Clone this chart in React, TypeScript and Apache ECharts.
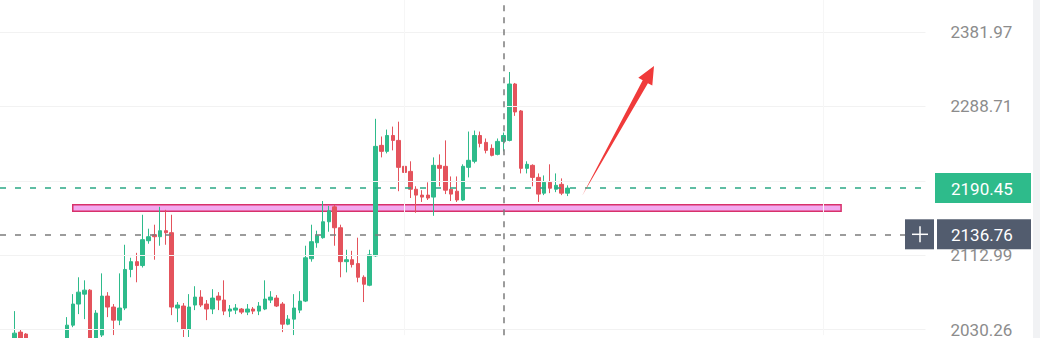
import React, { useEffect, useRef } from 'react';
import * as echarts from 'echarts';

// Price axis tick labels (log-spaced, evenly drawn)
const yTickLabels = ['2030.26', '2112.99', '2199.11', '2288.71', '2381.97'];
// visible axis range, in tick-steps (bottom edge / top edge of the plot)
const yMinStep = -0.076;
const yMaxStep = 4.4307;
const lastPrice = 2190.45;
const crossPrice = 2136.76;
const zoneTop = 2171.0;
const zoneBottom = 2163.5;
const zoneStartIdx = 12;
const zoneEndIdx = 144;
const crossIdx = 86;
const gridIdx = [69, 141];

const opens = [
  2000.8, 2009.3,
  2016.8, 2027.4, 2025.3, 2016.8, 2009.3, 2003.0, 2011.5, 2000.8, 2009.3, 2017.8,
  2035.0, 2058.2, 2069.2, 2073.6, 2020.0, 2024.2, 2067.0, 2054.9, 2040.5, 2053.8,
  2096.8, 2105.6, 2101.2, 2129.4, 2136.3, 2134.0, 2140.9, 2138.6, 2053.8, 2056.0,
  2030.6, 2057.1, 2065.9, 2058.2, 2052.7, 2067.0, 2062.6, 2050.4, 2051.5, 2052.7,
  2049.3, 2052.7, 2050.4, 2052.7, 2062.6, 2064.8, 2058.2, 2036.1, 2041.6, 2051.5,
  2061.5, 2108.9, 2127.1, 2132.9, 2151.2, 2168.5, 2144.3, 2105.6, 2107.8, 2103.4,
  2088.0, 2079.1, 2112.2, 2241.3, 2234.1, 2253.2, 2247.3, 2216.2, 2210.2, 2189.1,
  2182.2, 2182.2, 2179.9, 2217.4, 2216.2, 2189.1, 2186.8, 2176.5, 2215.0, 2222.2,
  2253.2, 2244.9, 2237.7, 2230.5, 2246.1, 2247.3, 2316.4, 2283.1, 2213.8, 2217.4,
  2203.1, 2184.5, 2197.2, 2189.1, 2194.9, 2184.5,
];
const closes = [
  2009.3, 2016.8,
  2026.3, 2020.0, 2016.8, 2009.3, 2003.0, 2011.5, 2000.8, 2009.3, 2017.8, 2035.0,
  2058.2, 2071.4, 2073.6, 2016.8, 2048.2, 2067.0, 2054.9, 2040.5, 2053.8, 2096.8,
  2105.6, 2101.2, 2130.6, 2134.0, 2134.0, 2140.9, 2138.6, 2054.9, 2057.1, 2030.6,
  2054.9, 2065.9, 2057.1, 2052.7, 2064.8, 2062.6, 2050.4, 2052.7, 2053.8, 2049.3,
  2052.7, 2050.4, 2056.0, 2063.7, 2065.9, 2056.0, 2036.1, 2041.6, 2053.8, 2061.5,
  2110.0, 2128.3, 2135.2, 2151.2, 2163.9, 2144.3, 2105.6, 2107.8, 2102.3, 2088.0,
  2080.2, 2113.3, 2240.1, 2234.1, 2253.2, 2247.3, 2215.0, 2209.0, 2189.1, 2182.2,
  2179.9, 2178.8, 2217.4, 2213.8, 2188.0, 2183.4, 2176.5, 2216.2, 2223.4, 2253.2,
  2243.7, 2235.3, 2229.3, 2246.1, 2253.2, 2316.4, 2281.9, 2213.8, 2218.6, 2203.1,
  2183.4, 2197.2, 2190.3, 2193.7, 2184.5, 2190.45,
];
const lows = [
  1995.5, 2005.1,
  2006.2, 2013.6, 2011.5, 2005.1, 1998.7, 1998.7, 1995.5, 1996.6, 2005.1, 2013.6,
  2032.8, 2047.1, 2041.6, 2011.5, 2016.8, 2022.1, 2043.8, 2024.2, 2035.0, 2051.5,
  2088.0, 2082.4, 2099.0, 2126.0, 2107.8, 2123.7, 2124.8, 2046.0, 2038.3, 2022.1,
  2022.1, 2051.5, 2054.9, 2040.5, 2047.1, 2051.5, 2046.0, 2043.8, 2047.1, 2047.1,
  2046.0, 2047.1, 2046.0, 2051.5, 2059.3, 2054.9, 2027.4, 2035.0, 2024.2, 2048.2,
  2060.4, 2105.6, 2121.4, 2131.7, 2139.7, 2123.7, 2088.0, 2093.5, 2099.0, 2082.4,
  2060.4, 2078.0, 2111.1, 2226.9, 2231.7, 2235.3, 2186.8, 2198.3, 2178.8, 2161.6,
  2174.2, 2176.5, 2158.1, 2192.6, 2183.4, 2175.3, 2174.2, 2175.3, 2203.1, 2219.8,
  2238.9, 2231.7, 2228.1, 2229.3, 2234.1, 2246.1, 2277.1, 2207.8, 2207.8, 2192.6,
  2174.2, 2182.2, 2184.5, 2185.7, 2182.2, 2181.1,
];
const highs = [
  2015.7, 2020.0,
  2050.4, 2030.6, 2026.3, 2021.0, 2013.6, 2016.8, 2015.7, 2013.6, 2021.0, 2043.8,
  2069.2, 2088.0, 2084.6, 2074.7, 2051.5, 2092.4, 2071.4, 2058.2, 2092.4, 2124.8,
  2110.0, 2115.6, 2159.3, 2143.2, 2147.8, 2168.5, 2165.0, 2159.3, 2060.4, 2059.3,
  2069.2, 2078.0, 2073.6, 2062.6, 2074.7, 2071.4, 2084.6, 2057.1, 2058.2, 2053.8,
  2058.2, 2054.9, 2060.4, 2084.6, 2072.5, 2068.1, 2060.4, 2046.0, 2069.2, 2072.5,
  2123.7, 2147.8, 2140.9, 2175.3, 2169.6, 2170.8, 2147.8, 2119.1, 2117.9, 2132.9,
  2090.2, 2119.1, 2273.5, 2252.0, 2260.4, 2264.0, 2270.0, 2240.1, 2222.2, 2192.6,
  2188.0, 2197.2, 2226.9, 2230.5, 2247.3, 2204.2, 2204.2, 2218.6, 2258.0, 2259.2,
  2258.0, 2249.6, 2242.5, 2249.6, 2256.8, 2331.4, 2317.7, 2284.3, 2222.2, 2218.6,
  2207.8, 2205.4, 2218.6, 2207.8, 2201.9, 2193.7,
];

const SLOTS = 159;
const categories = Array.from({ length: SLOTS }, (_, i) => `K${i}`);

const BASE = parseFloat(yTickLabels[0]);
const TOP = parseFloat(yTickLabels[yTickLabels.length - 1]);
const STEP = Math.log(TOP / BASE) / (yTickLabels.length - 1);
const toU = (p: number) => Math.log(p / BASE) / STEP;
const tickSteps = yTickLabels.map((_, i) => i);

const GREEN = '#2ebb8b';
const RED = '#e4535c';
const SLATE = '#525c6e';
const FONT = 'Roboto, "Noto Sans", sans-serif';

export default function App() {
  const ref = useRef<HTMLDivElement>(null);
  useEffect(() => {
    if (!ref.current) return;
    const chart = echarts.init(ref.current, null, { renderer: 'svg' });
    const candleData = opens.map((o, i) => [toU(o), toU(closes[i]), toU(lows[i]), toU(highs[i])]);
    chart.setOption({
      animation: false,
      backgroundColor: '#ffffff',
      grid: { left: 0, top: 0, width: 925.5, height: 338 },
      xAxis: {
        type: 'category',
        data: categories,
        boundaryGap: true,
        axisLine: { show: false },
        axisTick: { show: false },
        axisLabel: { show: false },
        splitLine: { show: false },
      },
      yAxis: {
        type: 'value',
        position: 'right',
        min: yMinStep,
        max: yMaxStep,
        axisLine: { show: false },
        axisTick: { show: false, customValues: tickSteps },
        splitLine: { show: false },
        axisLabel: {
          customValues: tickSteps,
          margin: 25,
          color: '#8c8c8c',
          fontSize: 17,
          fontFamily: FONT,
          formatter: (v: number) => yTickLabels[Math.round(v)] ?? '',
        },
      },
      series: [
        {
          type: 'candlestick',
          data: candleData,
          barWidth: 4,
          itemStyle: {
            color: GREEN,
            color0: RED,
            borderColor: GREEN,
            borderColor0: RED,
            borderWidth: 1,
          },
          markLine: {
            silent: true,
            symbol: 'none',
            label: { show: false },
            data: [
              ...tickSteps.map((t) => ({ yAxis: t, lineStyle: { color: '#f2f2f2', type: 'solid', width: 1 } })),
              ...gridIdx.map((g) => ({ xAxis: g, lineStyle: { color: '#f6f6f6', type: 'solid', width: 1 } })),
              { yAxis: toU(lastPrice), lineStyle: { color: '#2aa885', type: [6, 9], width: 1.5 } },
              { yAxis: toU(crossPrice), lineStyle: { color: '#7c7c7c', type: [6, 9], width: 1.5 } },
              { xAxis: crossIdx, lineStyle: { color: '#7c7c7c', type: [6, 6], width: 1.5 } },
            ],
          },
          markArea: {
            silent: true,
            itemStyle: { color: '#f2a9ef', borderColor: '#d8316b', borderWidth: 1.5 },
            data: [[{ xAxis: zoneStartIdx, yAxis: toU(zoneTop) }, { xAxis: zoneEndIdx, yAxis: toU(zoneBottom) }]],
          },
        },
      ],
    });

    const yLast = chart.convertToPixel({ yAxisIndex: 0 }, toU(lastPrice)) as number;
    const yCross = chart.convertToPixel({ yAxisIndex: 0 }, toU(crossPrice)) as number;

    chart.setOption({
      graphic: [
        { type: 'rect', z: 100, shape: { x: 1033, y: 0, width: 7, height: 338 }, style: { fill: '#f1f2f4' } },
        {
          type: 'polygon',
          z: 100,
          shape: {
            points: [
              [582, 196],
              [642.7, 80.2],
              [638.3, 77.8],
              [654, 66],
              [652.3, 85.6],
              [647.9, 83.2],
            ],
          },
          style: { fill: '#f03a3a' },
        },
        { type: 'rect', z: 100, shape: { x: 935, y: yLast - 15, width: 96, height: 30 }, style: { fill: GREEN } },
        {
          type: 'text',
          z: 101,
          style: { x: 951, y: yLast + 1, text: lastPrice.toFixed(2), fill: '#ffffff', font: `17px ${FONT}`, verticalAlign: 'middle', align: 'left' },
        },
        { type: 'rect', z: 100, shape: { x: 905, y: yCross - 15, width: 29, height: 30 }, style: { fill: SLATE } },
        { type: 'line', z: 101, shape: { x1: 912, y1: yCross, x2: 928, y2: yCross }, style: { stroke: '#ffffff', lineWidth: 1.5 } },
        { type: 'line', z: 101, shape: { x1: 920, y1: yCross - 8, x2: 920, y2: yCross + 8 }, style: { stroke: '#ffffff', lineWidth: 1.5 } },
        { type: 'rect', z: 100, shape: { x: 937, y: yCross - 15, width: 94, height: 30 }, style: { fill: SLATE } },
        {
          type: 'text',
          z: 101,
          style: { x: 951, y: yCross + 1, text: crossPrice.toFixed(2), fill: '#ffffff', font: `17px ${FONT}`, verticalAlign: 'middle', align: 'left' },
        },
      ],
    });

    return () => chart.dispose();
  }, []);
  return (
    <div
      ref={ref}
      style={{ position: 'fixed', left: 0, top: 0, width: 1040, height: 338, background: '#fff' }}
    />
  );
}
